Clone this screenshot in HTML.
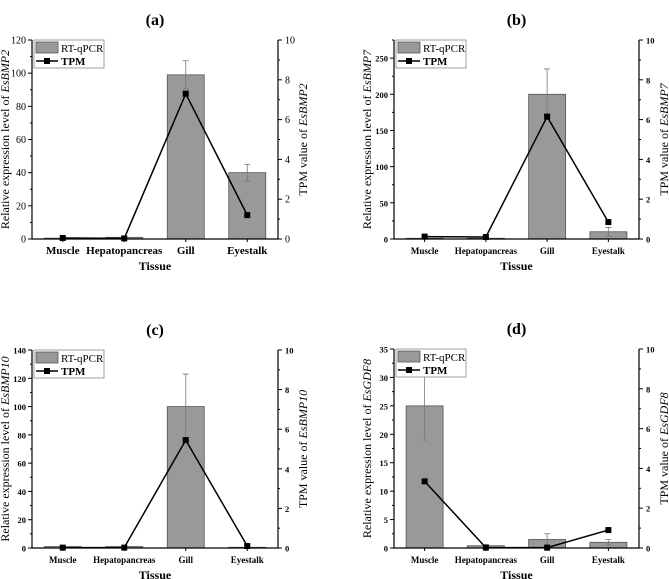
<!DOCTYPE html>
<html><head><meta charset="utf-8"><style>
body{margin:0;background:#fff}
svg{display:block;font-family:"Liberation Serif",serif}
</style></head><body>
<svg id="fig" width="669" height="579" viewBox="0 0 669 579" xmlns="http://www.w3.org/2000/svg"></svg>
<script>
const categories = ["Muscle","Hepatopancreas","Gill","Eyestalk"];
const barsA = [0.5, 1, 99, 40];
const errsA = [0, 0, 8.5, 5];
const tpmA = [0.05, 0.03, 7.3, 1.2];
const barsB = [1, 1, 200, 10];
const errsB = [3, 0, 35, 6];
const tpmB = [0.12, 0.1, 6.15, 0.85];
const barsC = [1, 1, 100, 0.5];
const errsC = [0, 0, 23, 0];
const tpmC = [0.02, 0.02, 5.45, 0.1];
const barsD = [25, 0.4, 1.5, 1];
const errsD = [6, 0.2, 1, 0.5];
const tpmD = [3.35, 0.02, 0.02, 0.9];
const leftTicksA = [0,20,40,60,80,100,120];
const leftTicksB = [0,50,100,150,200,250];
const leftTicksC = [0,20,40,60,80,100,120,140];
const leftTicksD = [0,5,10,15,20,25,30,35];
const rightTicks = [0,2,4,6,8,10];

const NS="http://www.w3.org/2000/svg";
const svg=document.getElementById('fig');
function el(tag,attrs,parent,text){const e=document.createElementNS(NS,tag);for(const k in attrs)e.setAttribute(k,attrs[k]);if(text!==undefined)e.textContent=text;(parent||svg).appendChild(e);return e;}

function panel(o){
  const g=el('g',{});
  
  
  const {L,R,T,B}=o;
  const yL=v=>B-(v/o.lmax)*(B-T);
  const yR=v=>B-(v/10)*(B-T);
  const bw=(R-L)/categories.length;
  const xc=i=>L+(i+0.5)*bw;
  const t=el('text',{x:(L+R)/2,y:T-15,'text-anchor':'middle','font-size':16,'font-weight':'bold'},g,'('+o.id+')');
  
  
  o.bars.forEach((v,i)=>{
    const r=el('rect',{x:xc(i)-18.5,y:yL(v),width:37,height:B-yL(v),fill:'#999',stroke:'#555','stroke-width':0.8},g);
    
    
    const e=o.errs[i];
    if(e>0){
      const eb=el('path',{d:`M${xc(i)},${yL(v+e)}V${yL(Math.max(0,v-e))}M${xc(i)-3},${yL(v+e)}H${xc(i)+3}M${xc(i)-3},${yL(Math.max(0,v-e))}H${xc(i)+3}`,stroke:'#777','stroke-width':0.8,fill:'none'},g);
      
      
    }
  });
  const ln=el('polyline',{points:o.tpm.map((v,i)=>xc(i)+','+yR(v)).join(' '),fill:'none',stroke:'#000','stroke-width':1.5},g);
  
  
  o.tpm.forEach((v,i)=>{
    const m=el('rect',{x:xc(i)-3,y:yR(v)-3,width:6,height:6,fill:'#000'},g);
    
    
  });
  el('path',{d:`M${L},${T}V${B}H${R}V${T}`,fill:'none',stroke:'#000','stroke-width':1.2},g);
  const fs=o.small?8.5:10;
  o.lticks.forEach(v=>{
    el('line',{x1:L-4,x2:L,y1:yL(v),y2:yL(v),stroke:'#000'},g);
    el('text',{x:L-6,y:yL(v)+3.5,'text-anchor':'end','font-size':fs,'font-weight':o.small?'bold':'normal'},g,v);
    const mv=v+o.lstep/2;
    if(yL(mv)>=T)el('line',{x1:L-2,x2:L,y1:yL(mv),y2:yL(mv),stroke:'#000'},g);
  });
  rightTicks.forEach(v=>{
    el('line',{x1:R,x2:R+4,y1:yR(v),y2:yR(v),stroke:'#000'},g);
    el('text',{x:R+7,y:yR(v)+3.5,'font-size':fs,'font-weight':o.small?'bold':'normal'},g,v);
    if(v<10)el('line',{x1:R,x2:R+2,y1:yR(v+1),y2:yR(v+1),stroke:'#000'},g);
  });
  categories.forEach((c,i)=>{
    el('line',{x1:xc(i),x2:xc(i),y1:B,y2:B+3,stroke:'#000'},g);
    const ct=el('text',{x:xc(i),y:B+15,'text-anchor':'middle','font-size':o.small?9:11,'font-weight':'bold'},g,c);
    
    
  });
  const xt=el('text',{x:(L+R)/2,y:B+31,'text-anchor':'middle','font-size':12,'font-weight':'bold'},g,'Tissue');
  
  
  const my=(T+B)/2;
  const yl=el('text',{transform:`translate(${L-23},${my}) rotate(-90)`,'text-anchor':'middle','font-size':12},g);
  
  
  el('tspan',{},yl,'Relative expression level of ');
  el('tspan',{'font-style':'italic'},yl,o.gene);
  const yr=el('text',{transform:`translate(${R+29},${my}) rotate(-90)`,'text-anchor':'middle','font-size':12},g);
  
  
  el('tspan',{},yr,'TPM value of ');
  el('tspan',{'font-style':'italic'},yr,o.gene);
  const lg=el('g',{},g);
  
  
  el('rect',{x:L+2,y:T,width:70,height:28,fill:'#fff',stroke:'#888','stroke-width':0.8},lg);
  el('rect',{x:L+4,y:T+2,width:22,height:11,fill:'#999',stroke:'#555','stroke-width':0.8},lg);
  el('text',{x:L+29,y:T+12,'font-size':11},lg,'RT-qPCR');
  el('line',{x1:L+4,x2:L+26,y1:T+21,y2:T+21,stroke:'#000','stroke-width':1.5},lg);
  el('rect',{x:L+12,y:T+18,width:6,height:6,fill:'#000'},lg);
  el('text',{x:L+29,y:T+25,'font-size':11,'font-weight':'bold'},lg,'TPM');
}
panel({id:'a',L:32,R:278,T:40,B:239,lmax:120,lstep:20,lticks:leftTicksA,bars:barsA,errs:errsA,tpm:tpmA,gene:'EsBMP2'});
panel({id:'b',L:394,R:639,T:40,B:239,lmax:275,lstep:50,lticks:leftTicksB,bars:barsB,errs:errsB,tpm:tpmB,gene:'EsBMP7',small:true});
panel({id:'c',L:32,R:278,T:350,B:548,lmax:140,lstep:20,lticks:leftTicksC,bars:barsC,errs:errsC,tpm:tpmC,gene:'EsBMP10',small:true});
panel({id:'d',L:394,R:639,T:349,B:548,lmax:35,lstep:5,lticks:leftTicksD,bars:barsD,errs:errsD,tpm:tpmD,gene:'EsGDF8',small:true});
</script>
</body></html>
